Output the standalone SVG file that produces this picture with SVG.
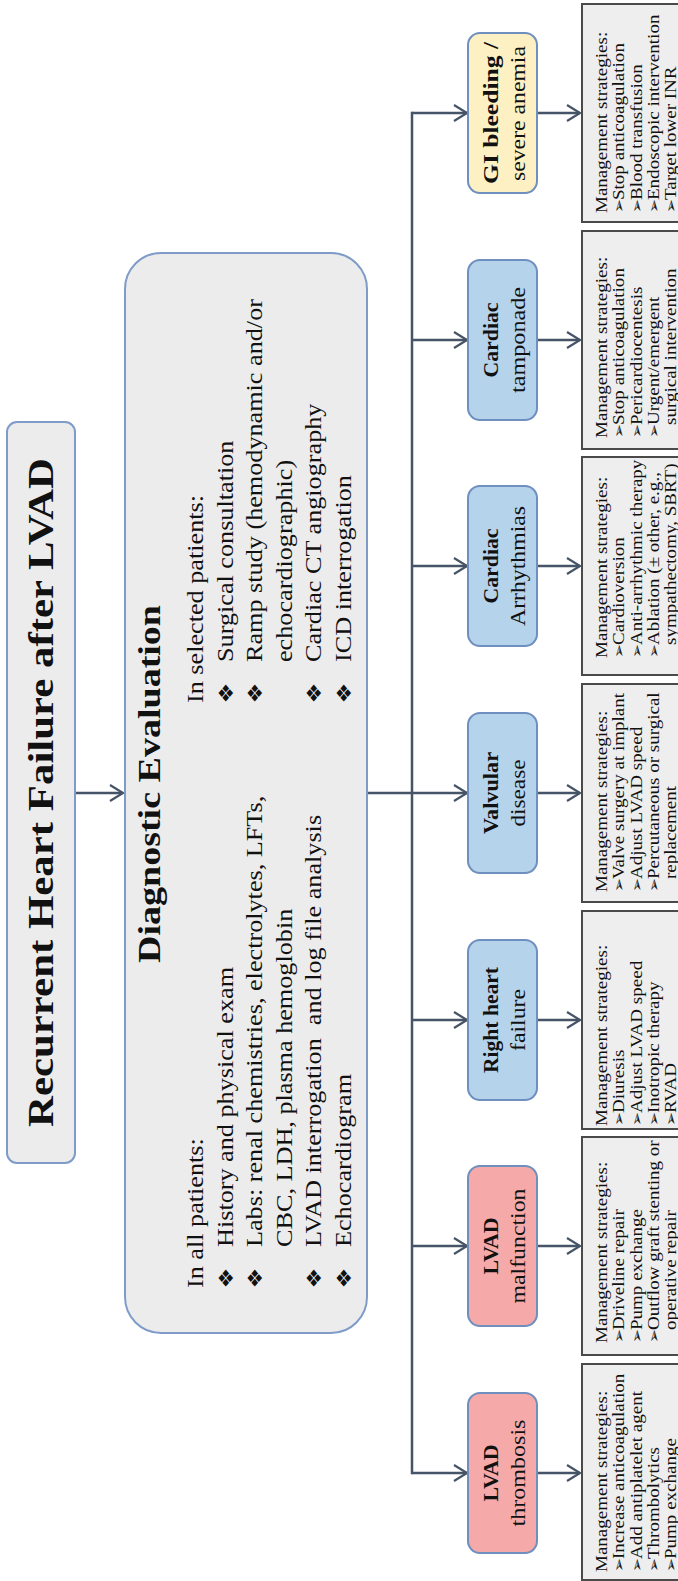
<svg xmlns="http://www.w3.org/2000/svg" width="678" height="1581" viewBox="0 0 678 1581">
<style>
.t{font-family:"Liberation Serif","Times New Roman",serif;fill:#111}
.b{font-weight:bold}
.dg{font-size:22.5px}
.mg{font-size:17px}
.cl1{font-size:22px;font-weight:bold}
.cl2{font-size:20px}
.bul{font-family:"DejaVu Sans",sans-serif;font-size:20px;fill:#111}
.arw{font-family:"DejaVu Sans",sans-serif;font-size:15px;fill:#1a1a1a}
.gbox{fill:#ececec;stroke:#7f9cc9;stroke-width:2}
.cat{stroke:#6f8fbf;stroke-width:2}
.red{fill:#f5aaa9}
.blue{fill:#b6d3ec}
.yel{fill:#fdf1c4}
.mbox{fill:#eeeeee;stroke:#4a4a4a;stroke-width:2}
.ln{fill:none;stroke:#465468;stroke-width:2.5}
</style>
<defs>
<marker id="ah" viewBox="-2 -2 18 20" refX="13" refY="8" markerWidth="18" markerHeight="20" markerUnits="userSpaceOnUse" orient="auto">
<path d="M0,0 L13,8 L0,16" fill="none" stroke="#465468" stroke-width="2.2"/>
</marker>
</defs>
<rect width="678" height="1581" fill="#ffffff"/>
<g transform="matrix(0,-1,1,0,0,1581)">
<g id="connectors">
<line class="ln" x1="788" y1="75" x2="788" y2="123" marker-end="url(#ah)"/>
<line class="ln" x1="788" y1="367" x2="788" y2="467" marker-end="url(#ah)"/>
<line class="ln" x1="1468" y1="412" x2="108" y2="412" stroke-linecap="square"/>
<line class="ln" x1="1468" y1="412" x2="1468" y2="467" marker-end="url(#ah)"/>
<line class="ln" x1="1241" y1="412" x2="1241" y2="467" marker-end="url(#ah)"/>
<line class="ln" x1="1015" y1="412" x2="1015" y2="467" marker-end="url(#ah)"/>
<line class="ln" x1="561" y1="412" x2="561" y2="467" marker-end="url(#ah)"/>
<line class="ln" x1="335" y1="412" x2="335" y2="467" marker-end="url(#ah)"/>
<line class="ln" x1="108" y1="412" x2="108" y2="467" marker-end="url(#ah)"/>
<line class="ln" x1="1468" y1="537" x2="1468" y2="580" marker-end="url(#ah)"/>
<line class="ln" x1="1241" y1="537" x2="1241" y2="580" marker-end="url(#ah)"/>
<line class="ln" x1="1015" y1="537" x2="1015" y2="580" marker-end="url(#ah)"/>
<line class="ln" x1="788" y1="537" x2="788" y2="580" marker-end="url(#ah)"/>
<line class="ln" x1="561" y1="537" x2="561" y2="580" marker-end="url(#ah)"/>
<line class="ln" x1="335" y1="537" x2="335" y2="580" marker-end="url(#ah)"/>
<line class="ln" x1="108" y1="537" x2="108" y2="580" marker-end="url(#ah)"/>
</g>
<g id="title">
<rect class="gbox" x="418" y="7" width="741" height="68" rx="10"/>
<text class="t b" x="454" y="53" font-size="36" textLength="669" lengthAdjust="spacingAndGlyphs">Recurrent Heart Failure after LVAD</text>
</g>
<g id="diagnostic">
<rect class="gbox" x="248" y="125" width="1080" height="242" rx="36"/>
<text class="t b" x="618" y="160" font-size="32" textLength="358" lengthAdjust="spacingAndGlyphs">Diagnostic Evaluation</text>
<g transform="translate(293,0) scale(1.165,1)">
<text class="t dg" x="0" y="203">In all patients:</text>
<text class="bul" x="-0.5" y="233">❖</text>
<text class="bul" x="-0.5" y="262">❖</text>
<text class="bul" x="-0.5" y="321">❖</text>
<text class="bul" x="-0.5" y="351">❖</text>
<text class="t dg" x="35.2" y="233">History and physical exam</text>
<text class="t dg" x="35.2" y="262">Labs: renal chemistries, electrolytes, LFTs,</text>
<text class="t dg" x="35.2" y="292">CBC, LDH, plasma hemoglobin</text>
<text class="t dg" x="35.2" y="321" xml:space="preserve">LVAD interrogation  and log file analysis</text>
<text class="t dg" x="35.2" y="351">Echocardiogram</text>
</g>
<g transform="translate(878,0) scale(1.165,1)">
<text class="t dg" x="0" y="203">In selected patients:</text>
<text class="bul" x="-0.5" y="233">❖</text>
<text class="bul" x="-0.5" y="262">❖</text>
<text class="bul" x="-0.5" y="321">❖</text>
<text class="bul" x="-0.5" y="351">❖</text>
<text class="t dg" x="35.2" y="233">Surgical consultation</text>
<text class="t dg" x="35.2" y="262">Ramp study (hemodynamic and/or</text>
<text class="t dg" x="35.2" y="292">echocardiographic)</text>
<text class="t dg" x="35.2" y="321">Cardiac CT angiography</text>
<text class="t dg" x="35.2" y="351">ICD interrogation</text>
</g>
</g>
<g id="gi-bleeding">
<rect class="cat yel" x="1388" y="468" width="160" height="69" rx="12"/>
<text class="t cl1" x="1397" y="498" textLength="142" lengthAdjust="spacingAndGlyphs">GI bleeding /</text>
<text class="t cl2" x="1400" y="525" textLength="135" lengthAdjust="spacingAndGlyphs">severe anemia</text>
</g>
<g id="cardiac-tamponade">
<rect class="cat blue" x="1161" y="468" width="160" height="69" rx="12"/>
<text class="t cl1" x="1203.5" y="498" textLength="75" lengthAdjust="spacingAndGlyphs">Cardiac</text>
<text class="t cl2" x="1188" y="525" textLength="106" lengthAdjust="spacingAndGlyphs">tamponade</text>
</g>
<g id="cardiac-arrhythmias">
<rect class="cat blue" x="935" y="468" width="160" height="69" rx="12"/>
<text class="t cl1" x="977.5" y="498" textLength="75" lengthAdjust="spacingAndGlyphs">Cardiac</text>
<text class="t cl2" x="955" y="525" textLength="120" lengthAdjust="spacingAndGlyphs">Arrhythmias</text>
</g>
<g id="valvular-disease">
<rect class="cat blue" x="708" y="468" width="160" height="69" rx="12"/>
<text class="t cl1" x="747" y="498" textLength="82" lengthAdjust="spacingAndGlyphs">Valvular</text>
<text class="t cl2" x="754.5" y="525" textLength="67" lengthAdjust="spacingAndGlyphs">disease</text>
</g>
<g id="right-heart-failure">
<rect class="cat blue" x="481" y="468" width="160" height="69" rx="12"/>
<text class="t cl1" x="508" y="498" textLength="106" lengthAdjust="spacingAndGlyphs">Right heart</text>
<text class="t cl2" x="530" y="525" textLength="62" lengthAdjust="spacingAndGlyphs">failure</text>
</g>
<g id="lvad-malfunction">
<rect class="cat red" x="255" y="468" width="160" height="69" rx="12"/>
<text class="t cl1" x="306.5" y="498" textLength="57" lengthAdjust="spacingAndGlyphs">LVAD</text>
<text class="t cl2" x="277.5" y="525" textLength="115" lengthAdjust="spacingAndGlyphs">malfunction</text>
</g>
<g id="lvad-thrombosis">
<rect class="cat red" x="28" y="468" width="160" height="69" rx="12"/>
<text class="t cl1" x="79.5" y="498" textLength="57" lengthAdjust="spacingAndGlyphs">LVAD</text>
<text class="t cl2" x="54.5" y="525" textLength="107" lengthAdjust="spacingAndGlyphs">thrombosis</text>
</g>
<g id="mgmt-gi">
<rect class="mbox" x="1359" y="582" width="218" height="110"/>
<g transform="translate(1368,0) scale(1.12,1)">
<text class="t mg" x="0" y="607">Management strategies:</text>
<text class="arw" x="0" y="624.3">➢</text><text class="t mg" x="11.6" y="624.3">Stop anticoagulation</text>
<text class="arw" x="0" y="641.6">➢</text><text class="t mg" x="11.6" y="641.6">Blood transfusion</text>
<text class="arw" x="0" y="658.9">➢</text><text class="t mg" x="11.6" y="658.9">Endoscopic intervention</text>
<text class="arw" x="0" y="676.2">➢</text><text class="t mg" x="11.6" y="676.2">Target lower INR</text>
</g>
</g>
<g id="mgmt-tamponade">
<rect class="mbox" x="1132" y="582" width="218" height="110"/>
<g transform="translate(1143,0) scale(1.12,1)">
<text class="t mg" x="0" y="607">Management strategies:</text>
<text class="arw" x="0" y="624.3">➢</text><text class="t mg" x="11.6" y="624.3">Stop anticoagulation</text>
<text class="arw" x="0" y="641.6">➢</text><text class="t mg" x="11.6" y="641.6">Pericardiocentesis</text>
<text class="arw" x="0" y="658.9">➢</text><text class="t mg" x="11.6" y="658.9">Urgent/emergent</text>
<text class="t mg" x="11.6" y="676.2">surgical intervention</text>
</g>
</g>
<g id="mgmt-arrhythmias">
<rect class="mbox" x="906" y="582" width="218" height="110"/>
<g transform="translate(923,0) scale(1.12,1)">
<text class="t mg" x="0" y="607">Management strategies:</text>
<text class="arw" x="0" y="624.3">➢</text><text class="t mg" x="11.6" y="624.3">Cardioversion</text>
<text class="arw" x="0" y="641.6">➢</text><text class="t mg" x="11.6" y="641.6">Anti-arrhythmic therapy</text>
<text class="arw" x="0" y="658.9">➢</text><text class="t mg" x="11.6" y="658.9">Ablation (± other, e.g.,</text>
<text class="t mg" x="11.6" y="676.2">sympathectomy, SBRT)</text>
</g>
</g>
<g id="mgmt-valvular">
<rect class="mbox" x="679" y="582" width="218" height="110"/>
<g transform="translate(689,0) scale(1.12,1)">
<text class="t mg" x="0" y="607">Management strategies:</text>
<text class="arw" x="0" y="624.3">➢</text><text class="t mg" x="11.6" y="624.3">Valve surgery at implant</text>
<text class="arw" x="0" y="641.6">➢</text><text class="t mg" x="11.6" y="641.6">Adjust LVAD speed</text>
<text class="arw" x="0" y="658.9">➢</text><text class="t mg" x="11.6" y="658.9">Percutaneous or surgical</text>
<text class="t mg" x="11.6" y="676.2">replacement</text>
</g>
</g>
<g id="mgmt-right-heart">
<rect class="mbox" x="452" y="582" width="218" height="110"/>
<g transform="translate(455,0) scale(1.12,1)">
<text class="t mg" x="0" y="607">Management strategies:</text>
<text class="arw" x="0" y="624.3">➢</text><text class="t mg" x="11.6" y="624.3">Diuresis</text>
<text class="arw" x="0" y="641.6">➢</text><text class="t mg" x="11.6" y="641.6">Adjust LVAD speed</text>
<text class="arw" x="0" y="658.9">➢</text><text class="t mg" x="11.6" y="658.9">Inotropic therapy</text>
<text class="arw" x="0" y="676.2">➢</text><text class="t mg" x="11.6" y="676.2">RVAD</text>
</g>
</g>
<g id="mgmt-malfunction">
<rect class="mbox" x="226" y="582" width="218" height="110"/>
<g transform="translate(238,0) scale(1.12,1)">
<text class="t mg" x="0" y="607">Management strategies:</text>
<text class="arw" x="0" y="624.3">➢</text><text class="t mg" x="11.6" y="624.3">Driveline repair</text>
<text class="arw" x="0" y="641.6">➢</text><text class="t mg" x="11.6" y="641.6">Pump exchange</text>
<text class="arw" x="0" y="658.9">➢</text><text class="t mg" x="11.6" y="658.9">Outflow graft stenting or</text>
<text class="t mg" x="11.6" y="676.2">operative repair</text>
</g>
</g>
<g id="mgmt-thrombosis">
<rect class="mbox" x="1" y="582" width="216" height="110"/>
<g transform="translate(9,0) scale(1.12,1)">
<text class="t mg" x="0" y="607">Management strategies:</text>
<text class="arw" x="0" y="624.3">➢</text><text class="t mg" x="11.6" y="624.3">Increase anticoagulation</text>
<text class="arw" x="0" y="641.6">➢</text><text class="t mg" x="11.6" y="641.6">Add antiplatelet agent</text>
<text class="arw" x="0" y="658.9">➢</text><text class="t mg" x="11.6" y="658.9">Thrombolytics</text>
<text class="arw" x="0" y="676.2">➢</text><text class="t mg" x="11.6" y="676.2">Pump exchange</text>
</g>
</g>
</g>
</svg>
